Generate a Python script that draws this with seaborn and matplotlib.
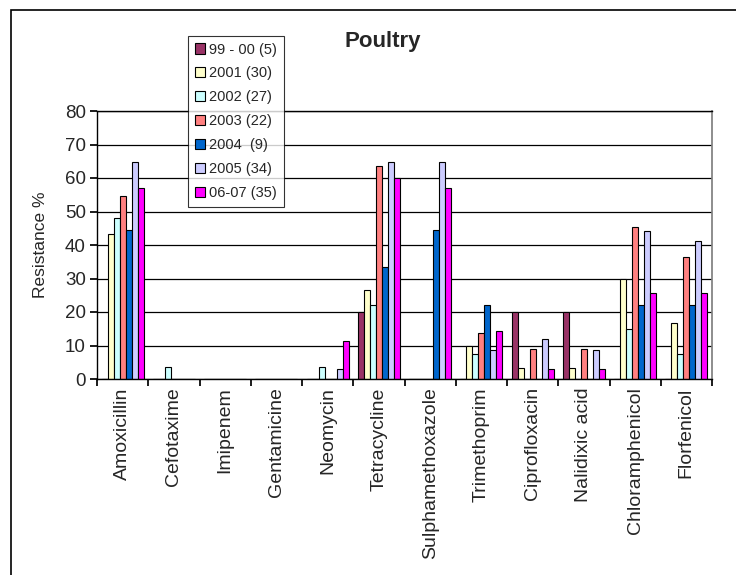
import matplotlib
matplotlib.use("Agg")
import matplotlib.pyplot as plt
import seaborn as sns
import pandas as pd
import numpy as np

sns.set_theme(style="white")
plt.rcParams['font.family'] = ['Liberation Sans', 'DejaVu Sans']

# Antibiotic resistance in poultry isolates, per period
antibiotics = ['Amoxicillin', 'Cefotaxime', 'Imipenem', 'Gentamicine', 'Neomycin',
               'Tetracycline', 'Sulphamethoxazole', 'Trimethoprim', 'Ciprofloxacin',
               'Nalidixic acid', 'Chloramphenicol', 'Florfenicol']
periods = ['99 - 00 (5)', '2001 (30)', '2002 (27)', '2003 (22)', '2004  (9)',
           '2005 (34)', '06-07 (35)']

r_9900 = [0, 0, 0, 0, 0, 20, 0, 0, 20, 20, 0, 0]
r_2001 = [43.3, 0, 0, 0, 0, 26.7, 0, 10, 3.3, 3.3, 30, 16.7]
r_2002 = [48.1, 3.7, 0, 0, 3.7, 22.2, 0, 7.4, 0, 0, 14.8, 7.4]
r_2003 = [54.5, 0, 0, 0, 0, 63.6, 0, 13.6, 9.1, 9.1, 45.5, 36.4]
r_2004 = [44.4, 0, 0, 0, 0, 33.3, 44.4, 22.2, 0, 0, 22.2, 22.2]
r_2005 = [64.7, 0, 0, 0, 2.9, 64.7, 64.7, 8.8, 11.8, 8.8, 44.1, 41.2]
r_0607 = [57.1, 0, 0, 0, 11.4, 60, 57.1, 14.3, 2.9, 2.9, 25.7, 25.7]

colors = ['#993366', '#FFFFCC', '#CCFFFF', '#FF8080', '#0066CC', '#CCCCFF', '#FF00FF']

series = [r_9900, r_2001, r_2002, r_2003, r_2004, r_2005, r_0607]
rows = []
for p, vals in zip(periods, series):
    for a, v in zip(antibiotics, vals):
        rows.append({'antibiotic': a, 'period': p, 'resistance': v})
df = pd.DataFrame(rows)

fig = plt.figure(figsize=(7.36, 5.75), dpi=100)
ax = fig.add_axes([97/736, 1 - 379/575, (712 - 97)/736, (379 - 111)/575])

sns.barplot(data=df, x='antibiotic', y='resistance', hue='period', order=antibiotics,
            hue_order=periods, palette=colors, saturation=1, width=0.82,
            edgecolor='black', linewidth=0.8, ax=ax)

ax.set_ylim(0, 80)
ax.set_xlim(-0.5, len(antibiotics) - 0.5)
ax.set_yticks(range(0, 81, 10))
ax.yaxis.grid(True, color='black', linewidth=0.9)
ax.set_axisbelow(True)
ax.tick_params(axis='y', labelsize=13.5, length=5, direction='out', left=True,
               color='black', pad=3)

# category ticks between groups, labels at centers
ax.set_xticks(np.arange(-0.5, len(antibiotics)), minor=False)
ax.set_xticklabels([])
ax.set_xticks(np.arange(len(antibiotics)), minor=True)
ax.set_xticklabels(antibiotics, minor=True, rotation=90, fontsize=14)
ax.tick_params(axis='x', which='major', length=5, direction='out', bottom=True, color='black')
ax.tick_params(axis='x', which='minor', length=0, pad=6)

ax.set_xlabel('')
ax.set_ylabel('Resistance %', fontsize=12.5)
ax.yaxis.set_label_coords((48 - 97) / 615, 0.5)
for s in ['left', 'bottom', 'top']:
    ax.spines[s].set_color('black')
    ax.spines[s].set_linewidth(1)
ax.spines['right'].set_color('#808080')

leg = ax.legend(loc='upper left', bbox_to_anchor=(188/736, 1 - 36/575),
                bbox_transform=fig.transFigure, fontsize=10.5, frameon=True,
                fancybox=False, edgecolor='black', handlelength=0.7, handleheight=0.7,
                handletextpad=0.3, labelspacing=0.68, borderpad=0.45, borderaxespad=0)
leg.get_frame().set_linewidth(0.8)

fig.text(383/736, 1 - 42/575, 'Poultry', ha='center', va='center',
         fontsize=16, fontweight='bold')

# outer chart border
fig.patches.append(plt.Rectangle((11/736, -0.1), 1.2, 1 - 10/575 + 0.1,
                                 transform=fig.transFigure, fill=False,
                                 edgecolor='black', linewidth=1.2))

fig.savefig('out.png', dpi=100)
